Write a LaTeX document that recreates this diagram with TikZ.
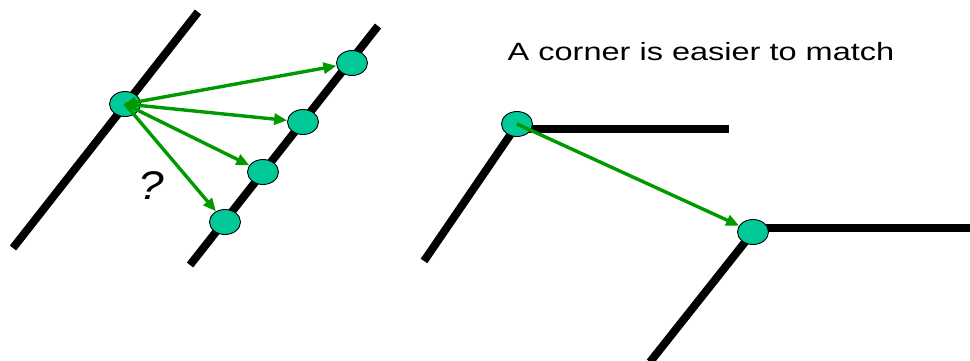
\documentclass[tikz,border=0pt]{standalone}
\usepackage{fontspec}
\setmainfont{Liberation Sans}
\usetikzlibrary{shapes.geometric,arrows.meta}
\definecolor{dotfill}{HTML}{00C896}
\definecolor{arrgreen}{HTML}{009A00}
\tikzset{
  blk/.style={line width=8pt,black},
  dotnode/.style={ellipse,draw=black,line width=0.9pt,fill=dotfill,minimum width=31pt,minimum height=25pt,inner sep=0pt},
  arr/.style={draw=arrgreen,line width=3.4pt,-{Triangle[length=13pt,width=11pt]}},
  darr/.style={draw=arrgreen,line width=3.4pt,{Triangle[length=11pt,width=10pt]}-{Triangle[length=13pt,width=11pt]}},
}
\begin{document}
\begin{tikzpicture}[x=1pt,y=-1pt]
\useasboundingbox (0,0) rectangle (970,360);
% left pair of lines
\coordinate (l1a) at (13,248);
\coordinate (l1b) at (198,12);
\coordinate (l2a) at (190,265);
\coordinate (l2b) at (378,26);
\draw[blk] (l1a) -- (l1b);
\draw[blk] (l2a) -- (l2b);
\node[dotnode] (L) at (125,104) {};
\node[dotnode] (A) at (352,63) {};
\node[dotnode] (B) at (303,122) {};
\node[dotnode] (C) at (263,172) {};
\node[dotnode] (D) at (225,222) {};
\draw[darr] (L.center) -- (A);
\draw[arr] (L.center) -- (B);
\draw[arr] (L.center) -- (C);
\draw[arr] (L.center) -- (D);
\node[font=\fontsize{40}{46}\selectfont\itshape] (q) at (151,186) {\scalebox{1.15}[1]{?}};
% right part
\node[anchor=base,font=\fontsize{25}{30}\selectfont] (title) at (701,60) {\scalebox{1.3}[1]{A corner is easier to match}};
\coordinate (h1) at (729,129);
\coordinate (d1) at (424,261);
\coordinate (h2) at (970,228);
\coordinate (d2) at (650,362);
\coordinate (c1) at (517,129);
\coordinate (c2) at (753,228);
\draw[blk] (c1) -- (h1);
\draw[blk] (517,125) -- (d1);
\draw[blk] (c2) -- (h2);
\draw[blk] (753,232) -- (d2);
\node[dotnode] (P) at (517,124) {};
\node[dotnode] (Q) at (753,232) {};
\draw[arr] (P.center) -- (Q);
\end{tikzpicture}
\end{document}
